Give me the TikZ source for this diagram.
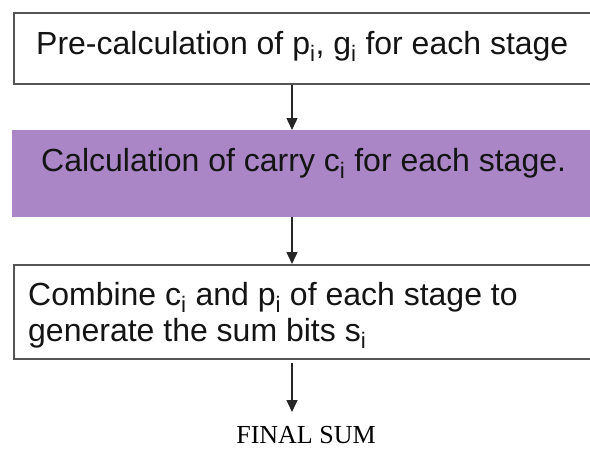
\documentclass[tikz,border=0pt]{standalone}
\usepackage{fontspec}
\setmainfont{Liberation Sans}
\newfontfamily\serifface{Liberation Serif}
\usetikzlibrary{arrows.meta}
\definecolor{boxline}{RGB}{85,85,85}
\definecolor{purplefill}{RGB}{170,134,198}
\definecolor{inktext}{RGB}{20,20,20}
\newcommand\sbi{\textsubscript{i}}
\tikzset{
  framebox/.style={draw=boxline, line width=1.8pt, fill=white, rectangle, anchor=north west, inner sep=0pt, minimum width=600pt},
  purplebox/.style={fill=purplefill, rectangle, anchor=north west, inner sep=0pt, minimum width=600pt},
  label text/.style={anchor=base west, inner sep=0pt, font=\fontsize{32pt}{36pt}\selectfont, text=inktext},
  arr/.style={draw=black!85, line width=1.4pt, -{Triangle[length=12pt,width=11pt]}}
}
\begin{document}
\begin{tikzpicture}[x=1pt,y=-1pt]
\useasboundingbox (0,0) rectangle (590,450);
\clip (0,0) rectangle (590,450);
\fill[white] (0,0) rectangle (590,450);
\coordinate (ax) at (292,0);
\node[framebox, minimum height=71pt] (b1) at (13,12) {};
\node[label text] (t1) at (36,54) {Pre-calculation of p\sbi, g\sbi{} for each stage};
\node[purplebox, minimum height=87pt] (b2) at (12,130) {};
\node[label text] (t2) at (41,171) {Calculation of carry c\sbi{} for each stage.};
\node[framebox, minimum height=94pt] (b3) at (13,264) {};
\node[label text] (t3a) at (28,305) {Combine c\sbi{} and p\sbi{} of each stage to};
\node[label text] (t3b) at (28,341) {generate the sum bits s\sbi};
\coordinate (a3) at (292,363);
\node[anchor=base, inner sep=0pt, text depth=0pt, font=\serifface\fontsize{26pt}{30pt}\selectfont] (fs) at (306,443) {FINAL SUM};
\draw[arr] (b1.south -| ax) -- (b2.north -| ax);
\draw[arr] (b2.south -| ax) -- (b3.north -| ax);
\draw[arr] (a3) -- (a3 |- 0,412) coordinate (a4);
\end{tikzpicture}
\end{document}
